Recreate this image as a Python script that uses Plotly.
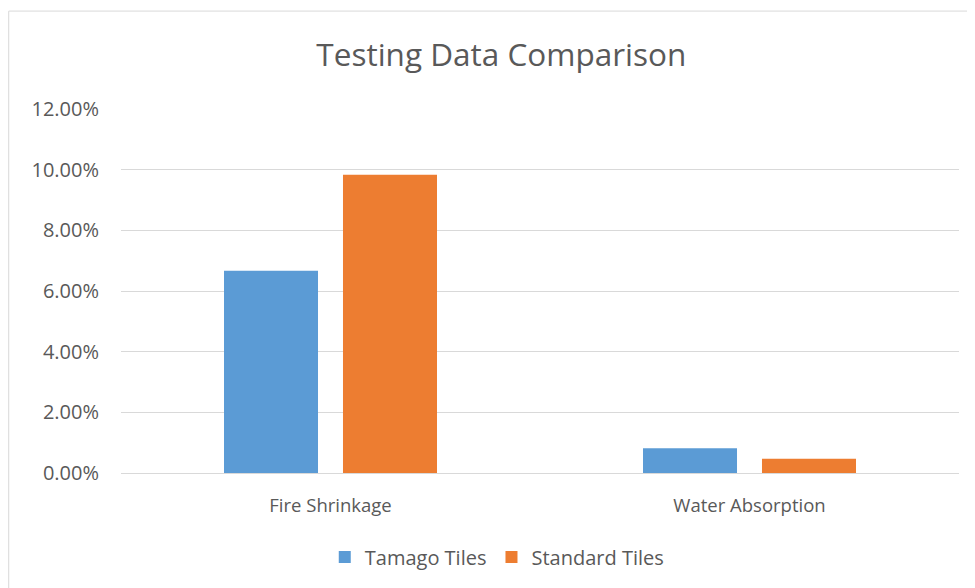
import plotly.graph_objects as go

categories = ["Fire Shrinkage", "Water Absorption"]
tamago_tiles = [0.0667, 0.0082]
standard_tiles = [0.0983, 0.0047]
y_ticks = [0, 0.02, 0.04, 0.06, 0.08, 0.10, 0.12]

FONT = "Open Sans"
GREY = "#595959"

fig = go.Figure()
fig.add_trace(go.Bar(name="Tamago Tiles", x=categories, y=tamago_tiles,
                     marker=dict(color="#5B9BD5", line=dict(width=0))))
fig.add_trace(go.Bar(name="Standard Tiles", x=categories, y=standard_tiles,
                     marker=dict(color="#ED7D31", line=dict(width=0))))

fig.update_layout(
    width=975, height=588,
    margin=dict(l=113, r=24, t=101, b=123),
    paper_bgcolor="white", plot_bgcolor="white",
    barmode="group", bargap=0.432, bargroupgap=0.21,
    title=dict(text="Testing Data Comparison", x=0.506, xanchor="center",
               y=0.92, yanchor="middle",
               font=dict(family=FONT, size=31.5, color=GREY)),
    font=dict(family=FONT, color=GREY),
    legend=dict(orientation="h", x=0.449, xanchor="center", y=-0.231, yanchor="middle",
                font=dict(family=FONT, size=20, color=GREY), itemwidth=30,
                traceorder="normal"),
    xaxis=dict(showgrid=False, showline=True, linecolor="#D9D9D9", linewidth=1,
               tickfont=dict(family=FONT, size=18.5, color=GREY), ticks="",
               ticklabelstandoff=16),
    yaxis=dict(range=[0, 0.12], tickvals=y_ticks, tickformat=".2%",
               showgrid=True, gridcolor="#D9D9D9", gridwidth=1, zeroline=False,
               tickfont=dict(family=FONT, size=20, color=GREY), ticks="",
               ticklabelstandoff=21),
    shapes=[dict(type="rect", xref="paper", yref="paper",
                 x0=-0.134, x1=1.05, y0=-0.4, y1=1.269,
                 line=dict(color="#D9D9D9", width=1), fillcolor="rgba(0,0,0,0)", layer="below")],
)

fig.write_html("out.html")
